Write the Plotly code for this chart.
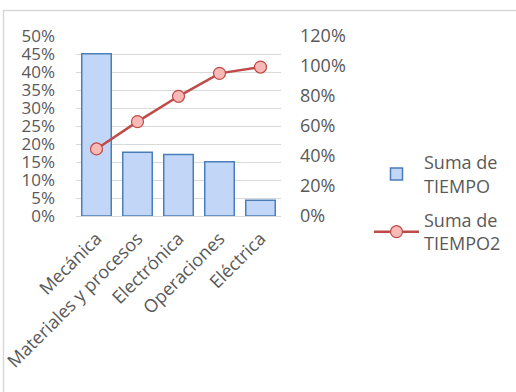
import plotly.graph_objects as go

categories = ["Mecánica", "Materiales y procesos", "Electrónica", "Operaciones", "Eléctrica"]
tiempo = [0.451, 0.177, 0.171, 0.151, 0.044]
tiempo2 = [0.447, 0.629, 0.798, 0.951, 0.993]
left_ticks = [0, 0.05, 0.10, 0.15, 0.20, 0.25, 0.30, 0.35, 0.40, 0.45, 0.50]
right_ticks = [0, 0.2, 0.4, 0.6, 0.8, 1.0, 1.2]

FONT = "Open Sans"
GRAY = "#595959"

fig = go.Figure()
fig.add_trace(go.Bar(
    x=categories, y=tiempo, name="Suma de<br>TIEMPO",
    legendgroup="a",
    marker=dict(color="#c2d7f8", line=dict(color="#4a7ebb", width=1.5)),
    yaxis="y",
))
fig.add_trace(go.Scatter(
    x=categories, y=tiempo2, name="Suma de<br>TIEMPO2",
    legendgroup="b",
    mode="lines+markers",
    line=dict(color="#be4b48", width=2.5),
    marker=dict(symbol="circle", size=12, color="#f9b9b7",
                line=dict(color="#be4b48", width=1.2)),
    yaxis="y2",
))

fig.update_layout(
    width=516, height=392,
    margin=dict(l=76, r=235, t=36, b=176, autoexpand=False),
    paper_bgcolor="white", plot_bgcolor="white",
    font=dict(family=FONT, size=17, color=GRAY),
    bargap=0.28,
    showlegend=True,
    legend=dict(
        x=(369 - 76) / 205, y=0.40, xanchor="left", yanchor="top",
        font=dict(family=FONT, size=18, color=GRAY),
        tracegroupgap=8, itemwidth=45,
        bgcolor="rgba(0,0,0,0)",
    ),
    xaxis=dict(
        tickangle=-45, showline=True, linecolor="#d9d9d9", linewidth=1,
        showgrid=False, ticks="", tickfont=dict(size=18, color=GRAY),
        ticklabelstandoff=4, automargin=False,
    ),
    yaxis=dict(
        range=[0, 0.5], tickvals=left_ticks, tickformat=".0%",
        showgrid=True, gridcolor="#d9d9d9", gridwidth=1,
        zeroline=False, showline=False, ticks="",
        ticklabelstandoff=20, automargin=False,
    ),
    yaxis2=dict(
        range=[0, 1.2], tickvals=right_ticks, tickformat=".0%",
        overlaying="y", side="right", showgrid=False, zeroline=False,
        showline=False, ticks="", ticklabelstandoff=18,
        tickfont=dict(size=18), automargin=False,
    ),
    shapes=[dict(
        type="rect", xref="paper", yref="paper",
        x0=(3.5 - 76) / 205, x1=(530 - 76) / 205,
        y0=(216 - 420) / 180, y1=(216 - 10.5) / 180,
        line=dict(color="#d9d9d9", width=1.5), layer="below",
    )],
)

fig.write_html("out.html")
